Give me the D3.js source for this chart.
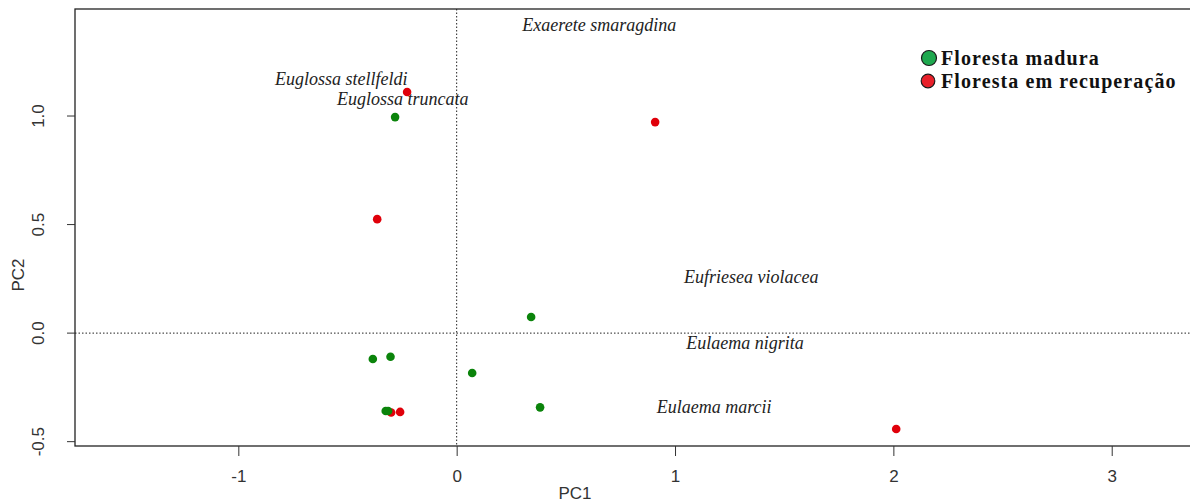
<!DOCTYPE html>
<html>
<head>
<meta charset="utf-8">
<script src="https://cdn.jsdelivr.net/npm/d3@7"></script>
<style>
  html, body { margin: 0; padding: 0; background: #fff; }
  svg { display: block; }
</style>
</head>
<body>
<svg id="chart" width="1190" height="504"></svg>
<script>
// ---- data ----
const maduraPC1 = [-0.282, 0.341, -0.384, -0.303, 0.071, 0.382, -0.325, -0.314];
const maduraPC2 = [0.995, 0.074, -0.119, -0.109, -0.184, -0.342, -0.359, -0.359];
const recupPC1 = [-0.227, 0.909, -0.364, -0.300, -0.259, 2.013];
const recupPC2 = [1.111, 0.972, 0.525, -0.366, -0.363, -0.442];
const speciesNames = ["Exaerete smaragdina", "Euglossa stellfeldi", "Euglossa truncata",
                      "Eufriesea violacea", "Eulaema nigrita", "Eulaema marcii"];
const speciesPC1 = [0.653, -0.529, -0.247, 1.349, 1.321, 1.179];
const speciesPC2 = [1.419, 1.171, 1.078, 0.258, -0.046, -0.341];
const xTicks = [-1, 0, 1, 2, 3];
const yTicks = [-0.5, 0.0, 0.5, 1.0];
const legendLabels = ["Floresta madura", "Floresta em recuperação"];

// ---- layout ----
const svg = d3.select("#chart");
const pL = 75, pR = 1192.5, pT = 9, pB = 446;
const x = d3.scaleLinear().domain([-1.748, 3.37]).range([pL, pR]);
const y = d3.scaleLinear().domain([-0.52, 1.493]).range([pB, pT]);

const sans = "'Liberation Sans', Arial, sans-serif";
const serif = "'Liberation Serif', 'Times New Roman', serif";
const hy = f => d => f(d).replace("\u2212", "-");

// reference lines
svg.append("line").attr("x1", x(0)).attr("x2", x(0)).attr("y1", pT).attr("y2", pB)
  .attr("stroke", "#222").attr("stroke-width", 1).attr("stroke-dasharray", "1.5,2");
svg.append("line").attr("x1", pL).attr("x2", pR).attr("y1", y(0)).attr("y2", y(0))
  .attr("stroke", "#222").attr("stroke-width", 1).attr("stroke-dasharray", "1.5,2");

// box
svg.append("rect").attr("x", pL).attr("y", pT).attr("width", pR - pL).attr("height", pB - pT)
  .attr("fill", "none").attr("stroke", "#222").attr("stroke-width", 1.3);

// axes
const xAxis = svg.append("g").attr("transform", `translate(0,${pB})`)
  .call(d3.axisBottom(x).tickValues(xTicks).tickFormat(hy(d3.format("d"))).tickSize(10).tickPadding(14));
xAxis.select(".domain").remove();
xAxis.selectAll("text").attr("font-family", sans).attr("font-size", 17).attr("fill", "#333");
xAxis.selectAll("line").attr("stroke", "#333");

const yAxis = svg.append("g").attr("transform", `translate(${pL},0)`)
  .call(d3.axisLeft(y).tickValues(yTicks).tickFormat(hy(d3.format(".1f"))).tickSize(8).tickPadding(0));
yAxis.select(".domain").remove();
yAxis.selectAll("line").attr("stroke", "#333");
yAxis.selectAll(".tick").attr("transform", null);
yAxis.selectAll(".tick line").attr("y1", d => y(d)).attr("y2", d => y(d)).attr("x2", -8);
yAxis.selectAll(".tick text")
  .attr("font-family", sans).attr("font-size", 17).attr("fill", "#333")
  .attr("x", 0).attr("y", 0).attr("dy", "0.35em")
  .attr("text-anchor", "middle")
  .attr("transform", d => `translate(-37,${y(d)}) rotate(-90)`);

// axis titles
svg.append("text").attr("x", 575).attr("y", 499).attr("text-anchor", "middle")
  .attr("font-family", sans).attr("font-size", 17).attr("fill", "#333").text("PC1");
svg.append("text").attr("transform", "translate(18,275) rotate(-90)").attr("text-anchor", "middle")
  .attr("dy", "0.35em")
  .attr("font-family", sans).attr("font-size", 17).attr("fill", "#333").text("PC2");

// species labels
svg.append("g").selectAll("text").data(speciesNames).join("text")
  .attr("x", (d, i) => x(speciesPC1[i]))
  .attr("y", (d, i) => y(speciesPC2[i]))
  .attr("dy", "0.33em")
  .attr("text-anchor", "middle")
  .attr("font-family", serif).attr("font-style", "italic").attr("font-size", 18)
  .attr("fill", "#222")
  .text(d => d);

// points
const red = "#e0000a", green = "#0b840b";
svg.append("g").selectAll("circle").data(recupPC1).join("circle")
  .attr("cx", d => x(d)).attr("cy", (d, i) => y(recupPC2[i])).attr("r", 4.3).attr("fill", red);
svg.append("g").selectAll("circle").data(maduraPC1).join("circle")
  .attr("cx", d => x(d)).attr("cy", (d, i) => y(maduraPC2[i])).attr("r", 4.3).attr("fill", green);

// legend
const lg = svg.append("g");
const legFill = ["#1fa84f", "#e8202a"];
const legR = [7.5, 6.8];
const legY = [58, 81];
const legCX = [929, 928];
legendLabels.forEach((t, i) => {
  lg.append("circle").attr("cx", legCX[i]).attr("cy", legY[i]).attr("r", legR[i])
    .attr("fill", legFill[i]).attr("stroke", "#1a1a1a").attr("stroke-width", 1.2);
  lg.append("text").attr("x", 941).attr("y", legY[i]).attr("dy", "0.35em")
    .attr("font-family", serif).attr("font-weight", "bold").attr("font-size", 20)
    .attr("letter-spacing", "1.1px").attr("fill", "#111").text(t);
});
</script>
</body>
</html>
